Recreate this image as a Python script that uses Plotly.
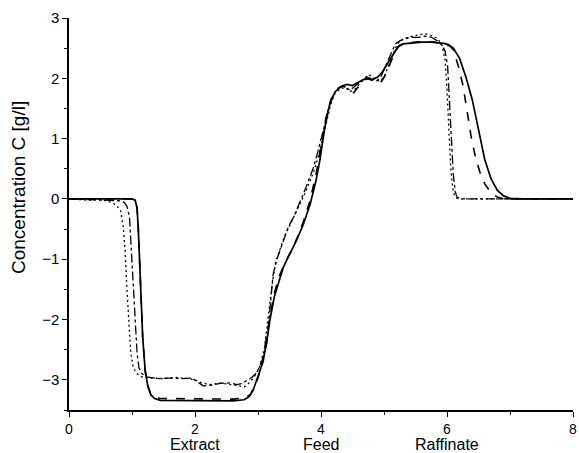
import plotly.graph_objects as go

# Series values: (time, concentration)
solid_pts = [
    (0, 0), (1.0, 0), (1.05, -0.02), (1.08, -0.15), (1.10, -0.5), (1.13, -1.3), (1.17, -2.3),
    (1.21, -2.85), (1.25, -3.1), (1.30, -3.25), (1.36, -3.31), (1.45, -3.34), (2.0, -3.35),
    (2.6, -3.35), (2.78, -3.33), (2.86, -3.28), (2.92, -3.18), (2.97, -3.02), (3.02, -2.88),
    (3.08, -2.7), (3.14, -2.35), (3.19, -2.0), (3.26, -1.62), (3.33, -1.36), (3.40, -1.14),
    (3.50, -0.92), (3.61, -0.69), (3.72, -0.42), (3.83, -0.08), (3.92, 0.3), (3.98, 0.63),
    (4.06, 1.18), (4.14, 1.58), (4.22, 1.77), (4.30, 1.85), (4.41, 1.90), (4.50, 1.88),
    (4.60, 1.94), (4.72, 2.0), (4.80, 1.97), (4.90, 2.02), (4.97, 2.1), (5.03, 2.2),
    (5.10, 2.3), (5.16, 2.42), (5.22, 2.52), (5.30, 2.57), (5.45, 2.59), (5.6, 2.60),
    (5.75, 2.60), (5.88, 2.59), (5.95, 2.58), (6.02, 2.56), (6.10, 2.5), (6.20, 2.33),
    (6.30, 2.02), (6.40, 1.65), (6.50, 1.12), (6.60, 0.65), (6.70, 0.33), (6.80, 0.14),
    (6.90, 0.05), (7.0, 0.01), (7.2, 0), (8.0, 0),
]

dashed_pts = [
    (0, 0), (1.0, 0), (1.05, -0.02), (1.08, -0.15), (1.10, -0.5), (1.13, -1.3), (1.17, -2.3),
    (1.21, -2.85), (1.25, -3.1), (1.30, -3.24), (1.36, -3.29), (1.45, -3.31), (2.0, -3.32),
    (2.6, -3.32), (2.8, -3.30), (2.88, -3.24), (2.95, -3.10), (3.0, -2.97), (3.06, -2.75),
    (3.12, -2.4), (3.18, -2.0), (3.25, -1.6), (3.33, -1.3), (3.42, -1.08), (3.52, -0.88),
    (3.62, -0.65), (3.72, -0.38), (3.82, -0.05), (3.92, 0.4), (4.0, 0.85), (4.08, 1.35),
    (4.16, 1.65), (4.25, 1.82), (4.35, 1.88), (4.45, 1.80), (4.52, 1.76), (4.62, 1.90),
    (4.70, 1.98), (4.78, 2.0), (4.86, 1.95), (4.94, 1.92), (5.02, 2.05), (5.10, 2.25),
    (5.18, 2.45), (5.25, 2.55), (5.35, 2.58), (5.5, 2.60), (5.65, 2.61), (5.8, 2.60),
    (5.9, 2.58), (5.98, 2.56), (6.05, 2.53), (6.10, 2.48), (6.18, 2.2), (6.25, 1.9),
    (6.32, 1.45), (6.38, 1.05), (6.45, 0.7), (6.52, 0.45), (6.60, 0.25), (6.70, 0.1),
    (6.80, 0.03), (6.90, 0), (8.0, 0),
]

dashdot_pts = [
    (0, 0.0), (0.3, -0.01), (0.6, -0.02), (0.8, -0.03), (0.88, -0.06), (0.92, -0.12),
    (0.96, -0.3), (0.99, -0.9), (1.02, -1.5), (1.05, -2.15), (1.08, -2.55), (1.11, -2.8),
    (1.16, -2.9), (1.23, -2.95), (1.4, -2.98), (1.6, -2.97), (1.8, -2.98), (1.95, -2.97),
    (2.03, -3.03), (2.13, -3.1), (2.25, -3.09), (2.4, -3.06), (2.55, -3.05), (2.66, -3.08),
    (2.75, -3.06), (2.82, -3.01), (2.9, -2.96), (2.98, -2.88), (3.06, -2.7), (3.14, -2.4),
    (3.19, -1.8), (3.24, -1.25), (3.30, -1.0), (3.35, -0.86), (3.42, -0.65), (3.48, -0.47),
    (3.56, -0.31), (3.64, -0.12), (3.72, 0.08), (3.80, 0.3), (3.88, 0.52), (3.95, 0.78),
    (4.01, 1.01), (4.07, 1.28), (4.12, 1.51), (4.18, 1.68), (4.25, 1.81), (4.33, 1.87),
    (4.40, 1.85), (4.46, 1.80), (4.52, 1.85), (4.60, 1.92), (4.66, 1.97), (4.72, 2.03),
    (4.80, 1.98), (4.88, 1.96), (4.94, 2.0), (5.0, 2.15), (5.06, 2.3), (5.12, 2.45),
    (5.18, 2.57), (5.25, 2.62), (5.35, 2.66), (5.45, 2.68), (5.55, 2.68), (5.65, 2.70),
    (5.75, 2.68), (5.85, 2.62), (5.92, 2.55), (5.97, 2.45), (6.01, 2.2), (6.04, 1.6),
    (6.07, 1.0), (6.10, 0.4), (6.13, 0.12), (6.16, 0.03), (6.22, 0), (8.0, 0),
]

dotted_pts = [
    (0, 0.0), (0.3, -0.02), (0.5, -0.01), (0.65, -0.05), (0.75, -0.1), (0.82, -0.2),
    (0.86, -0.45), (0.89, -0.85), (0.92, -1.5), (0.95, -2.1), (0.98, -2.55), (1.02, -2.8),
    (1.08, -2.9), (1.15, -2.95), (1.3, -2.97), (1.5, -2.98), (1.7, -2.96), (1.9, -2.98),
    (2.0, -3.0), (2.1, -3.05), (2.25, -3.08), (2.4, -3.05), (2.55, -3.07), (2.7, -3.1),
    (2.78, -3.12), (2.86, -3.05), (2.94, -2.95), (3.02, -2.8), (3.1, -2.5), (3.16, -2.0),
    (3.22, -1.45), (3.28, -1.05), (3.35, -0.85), (3.42, -0.62), (3.5, -0.45), (3.58, -0.28),
    (3.66, -0.1), (3.74, 0.08), (3.82, 0.28), (3.90, 0.5), (3.97, 0.75), (4.03, 1.0),
    (4.09, 1.3), (4.15, 1.55), (4.22, 1.75), (4.30, 1.82), (4.38, 1.85), (4.46, 1.78),
    (4.54, 1.82), (4.62, 1.92), (4.70, 2.0), (4.78, 2.05), (4.86, 1.98), (4.93, 1.95),
    (5.0, 2.02), (5.06, 2.18), (5.12, 2.35), (5.18, 2.5), (5.25, 2.62), (5.35, 2.67),
    (5.45, 2.7), (5.55, 2.72), (5.65, 2.74), (5.75, 2.71), (5.85, 2.66), (5.92, 2.55),
    (5.97, 2.3), (6.00, 1.8), (6.03, 1.1), (6.06, 0.5), (6.09, 0.18), (6.12, 0.05),
    (6.16, 0.01), (6.2, 0), (8.0, 0),
]

x_tick_vals = [0, 2, 4, 6, 8]
y_tick_vals = [-3, -2, -1, 0, 1, 2, 3]
zone_labels = ["Extract", "Feed", "Raffinate"]
zone_positions = [2, 4, 6]
y_title = "Concentration C [g/l]"

FONT = "Liberation Sans, Arial, sans-serif"

fig = go.Figure()
series = [
    (solid_pts, "solid", 1.7),
    (dashed_pts, "dash", 1.6),
    (dashdot_pts, "dashdot", 1.3),
    (dotted_pts, "2px,3px", 1.3),
]
for pts, dash, w in series:
    xs = [p[0] for p in pts]
    ys = [p[1] for p in pts]
    fig.add_trace(go.Scatter(x=xs, y=ys, mode="lines",
                             line=dict(color="black", width=w, dash=dash, shape="linear"),
                             showlegend=False, hoverinfo="skip", cliponaxis=False))

for lab, pos in zip(zone_labels, zone_positions):
    fig.add_annotation(x=pos, xref="x", y=0, yref="paper", text=lab, showarrow=False,
                       yanchor="middle", yshift=-34, font=dict(family=FONT, size=16, color="black"))

fig.add_annotation(x=0, xref="paper", y=(409 - 187) / 392, yref="paper", text=y_title,
                   showarrow=False, textangle=-90, xanchor="center", yanchor="middle",
                   xshift=-51, font=dict(family=FONT, size=19, color="black"))

fig.update_layout(
    width=579, height=453,
    margin=dict(l=69, r=6, t=18, b=43, autoexpand=False),
    paper_bgcolor="white", plot_bgcolor="white",
    font=dict(family=FONT, color="black"),
    xaxis=dict(range=[0, 8], tickvals=x_tick_vals, ticks="outside", ticklen=5, tickwidth=1.3,
               tickcolor="black", showline=True, linecolor="black", linewidth=1.5, automargin=False,
               showgrid=False, zeroline=False, tickfont=dict(family=FONT, size=14),
               minor=dict(dtick=1, ticks="outside", ticklen=3, tickwidth=1.3, tickcolor="black", showgrid=False)),
    yaxis=dict(range=[-3.5, 3], tickvals=y_tick_vals, ticks="outside", ticklen=5, tickwidth=1.3,
               tickcolor="black", showline=True, linecolor="black", linewidth=1.5, automargin=False,
               showgrid=False, zeroline=False, tickfont=dict(family=FONT, size=15),
               minor=dict(dtick=0.5, tick0=0, ticks="outside", ticklen=3, tickwidth=1.3, tickcolor="black", showgrid=False)),
)

fig.write_html("out.html")
